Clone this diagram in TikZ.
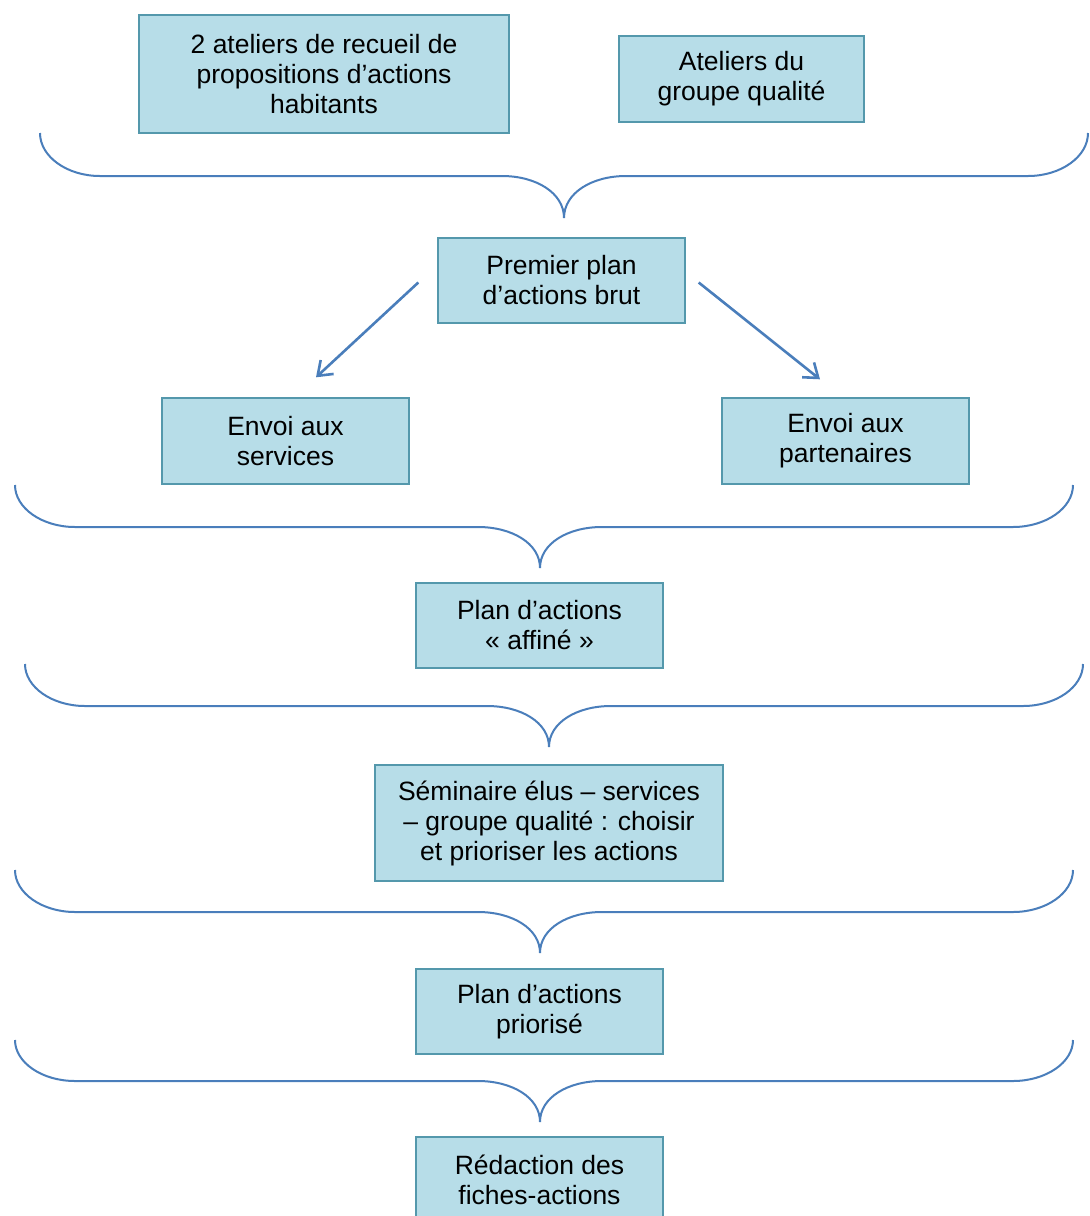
\documentclass[tikz,border=0pt]{standalone}
\usepackage{fontspec}
\setmainfont{Liberation Sans}
\usetikzlibrary{arrows.meta,calc}

\definecolor{boxfill}{RGB}{183,221,232}
\definecolor{boxline}{RGB}{84,152,172}
\definecolor{linkblue}{RGB}{74,126,187}

% Curly bracket gathering one row of steps into the next one.
% #1 left x, #2 top y of the ends, #3 y of the straight part,
% #4 x of the tip, #5 y of the tip, #6 right x, #7 name of the tip
\newcommand\flowbrace[7]{%
  \draw[bracestyle]
    (#1,#2) .. controls (#1,{#2+0.55*(#3-#2)}) and ({#1+27},#3) .. ({#1+60},#3)
    -- ({#4-62},#3)
    .. controls ({#4-28},#3) and (#4,{#5-0.6*(#5-#3)}) .. (#4,#5) coordinate (#7)
    .. controls (#4,{#5-0.6*(#5-#3)}) and ({#4+28},#3) .. ({#4+62},#3)
    -- ({#6-60},#3)
    .. controls ({#6-27},#3) and (#6,{#2+0.55*(#3-#2)}) .. (#6,#2);
}

\begin{document}
\begin{tikzpicture}[x=1pt,y=-1pt,
  stepbox/.style={draw=boxline, line width=1.4pt, fill=boxfill,
    rectangle, inner sep=0pt, align=center,
    font=\fontsize{26.5}{30}\selectfont},
  bracestyle/.style={draw=linkblue, line width=2pt},
  flowarrow/.style={draw=linkblue, line width=2.6pt,
    -{Straight Barb[length=13pt,width=19pt,line width=2.6pt]}}]

\useasboundingbox (0,0) rectangle (1090,1216);
\clip (0,0) rectangle (1090,1216);

% steps
\node[stepbox, minimum width=370pt, minimum height=118pt] (b1) at (324,74)
  {2 ateliers de recueil de\\propositions d’actions\\habitants};
\node[stepbox, minimum width=245pt, minimum height=86pt] (b2) at (741.5,79)
  {Ateliers du\\groupe qualité};
\node[stepbox, minimum width=247pt, minimum height=85pt] (b3) at (561.5,280.5)
  {Premier plan\\d’actions brut};
\node[stepbox, minimum width=247pt, minimum height=86pt] (b4) at (285.5,441)
  {Envoi aux\\services};
\node[stepbox, minimum width=247pt, minimum height=86pt] (b5) at (845.5,441)
  {Envoi aux\\partenaires};
\node[stepbox, minimum width=247pt, minimum height=85pt] (b6) at (539.5,625.5)
  {Plan d’actions\\«~affiné~»};
\node[stepbox, minimum width=348pt, minimum height=116pt] (b7) at (549,823)
  {Séminaire élus – services\\– groupe qualité : choisir\\et prioriser les actions};
\node[stepbox, minimum width=247pt, minimum height=85pt] (b8) at (539.5,1011.5)
  {Plan d’actions\\priorisé};
\node[stepbox, minimum width=247pt, minimum height=85pt] (b9) at (539.5,1179.5)
  {Rédaction des\\fiches-actions};

% brackets joining each row to the next step
\flowbrace{40}{133}{176}{564}{218}{1088}{t1}
\flowbrace{15}{485}{527}{540}{568}{1073}{t2}
\flowbrace{25}{664}{706}{549}{747}{1083}{t3}
\flowbrace{15}{870}{912}{540}{953}{1073}{t4}
\flowbrace{15}{1040}{1081}{540}{1122}{1073}{t5}

% the first plan is sent out in two directions
\coordinate (a1s) at ($(b3.west)+(-19,2)$);
\coordinate (a1e) at ($(b4.north)+(30.5,-20)$);
\coordinate (a2s) at ($(b3.east)+(13,2)$);
\coordinate (a2e) at ($(b5.north)+(-25.5,-18)$);
\draw[flowarrow] (a1s) -- (a1e);
\draw[flowarrow] (a2s) -- (a2e);

\end{tikzpicture}
\end{document}
